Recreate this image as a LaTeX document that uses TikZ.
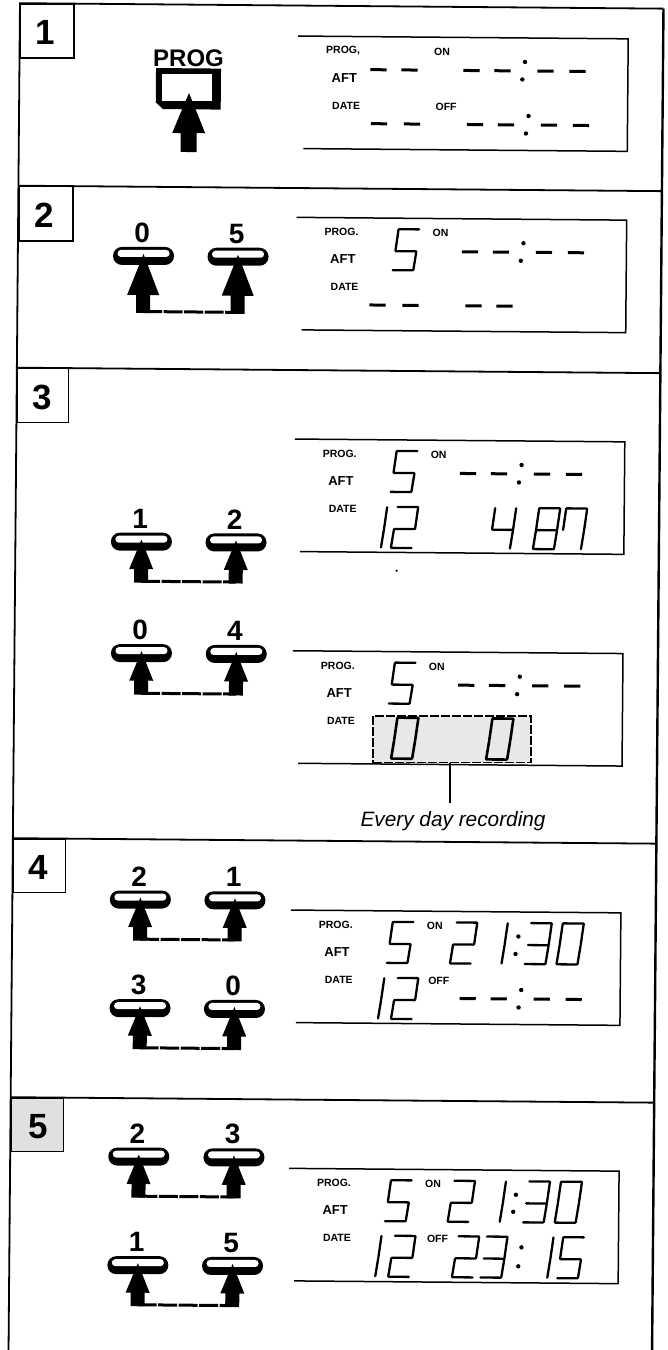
\documentclass[tikz,border=0pt]{standalone}
\usepackage{fontspec}
\setmainfont{Liberation Sans}
\usepackage{tikz}
\usetikzlibrary{calc, positioning}

\tikzset{
    framelines/.style={line width=1.8pt},
    stepbox/.style={draw, line width=1.5pt, inner sep=0pt, anchor=north west},
    stepnum/.style={inner sep=0pt, font=\bfseries\fontsize{35}{35}\selectfont},
    keybtn/.style={fill=black, inner sep=0pt, minimum width=61pt, minimum height=18pt, rounded corners=8.9pt},
    keyface/.style={fill=white, inner sep=0pt, minimum width=52pt, minimum height=7pt, rounded corners=3.4pt},
    keynum/.style={inner sep=0pt, font=\bfseries\fontsize{28}{28}\selectfont},
    keylink/.style={line width=3pt, dash pattern=on 19pt off 1.5pt},
    lcdframe/.style={line width=1.5pt},
    lcdseg/.style={line width=2.3pt, line cap=round, shorten >=0.4pt, shorten <=0.4pt},
    lcddash/.style={line width=3pt, shorten >=2.4pt, shorten <=2.4pt},
    lcdsmall/.style={inner sep=0pt, font=\bfseries\fontsize{10.5}{10.5}\selectfont},
    lcdaft/.style={inner sep=0pt, font=\bfseries\fontsize{13}{13}\selectfont},
    shadebox/.style={draw, fill=black!9, line width=1.9pt, dash pattern=on 9pt off 2pt, inner sep=0pt,
        minimum width=158pt, minimum height=46.8pt},
}

% Segments of the display digits
\def\digZero{TL/TR,TL/ML,TR/MR,ML/BL,MR/BR,BL/BR}
\def\digOne{TR/MR,MR/BR}
\def\digTwo{TL/TR,TR/MR,ML/MR,ML/BL,BL/BR}
\def\digThree{TL/TR,TR/MR,ML/MR,MR/BR,BL/BR}
\def\digFour{TL/ML,TR/MR,ML/MR,MR/BR}
\def\digFive{TL/TR,TL/ML,ML/MR,MR/BR,BL/BR}
\def\digSeven{TL/TR,TL/ML,TR/MR,MR/BR}
\def\digEight{TL/TR,TL/ML,TR/MR,ML/MR,ML/BL,MR/BR,BL/BR}
\def\digDash{ML/MR}

\newcommand{\lcd}[4][lcdseg]{%
    \begin{scope}[shift={(#2,#3)}]
        \coordinate (TL) at (6,0);
        \coordinate (TR) at (27,0);
        \coordinate (ML) at (3,22);
        \coordinate (MR) at (24,22);
        \coordinate (BL) at (0,41);
        \coordinate (BR) at (21,41);
        \foreach \p/\q in #4 { \draw[#1] (\p) -- (\q); }
    \end{scope}}

% Blank time, four dashes and a colon
\newcommand{\timeblank}[2]{%
    \begin{scope}[shift={(#1,#2)}]
        \foreach \x in {160,191,234,266} { \lcd[lcddash]{\x}{11}{\digDash} }
        \fill (227,24) circle (2.2);
        \fill (224.5,41.5) circle (2.2);
    \end{scope}}

% Frame and fixed words of a display
\newcommand{\lcdbase}[2]{%
    \draw[lcdframe] (0,0) -- (330,0) -- (330,112.5) -- (6,112.5);
    \node (#1prog) [lcdsmall] at (45,14.5) {#2};
    \node (#1aft) [lcdaft] at (46.5,41.5) {AFT};
    \node (#1date) [lcdsmall] at (48.5,69.5) {DATE};
    \node (#1on) [lcdsmall] at (144,14.5) {ON};}

\newcommand{\stepno}[5]{%
    \node (#1) [stepbox, minimum width=#4pt, minimum height=#5pt] at (20,#3) {};
    \node (#1num) [stepnum] at (46,#3+29.5) {#2};}

\newcommand{\onekey}[7]{%
    \node (#1) [keybtn] at (#3,#4) {};
    \node (#1face) [keyface] at (#3,#4-2.5) {};
    \node (#1num) [keynum] at (#3-1.5,#4-23) {#2};
    \fill (#3,#4-2) -- (#3+#7,#4+#5) -- (#3+7,#4+#5) -- (#3+7,#4+#6)
        -- (#3-7,#4+#6) -- (#3-7,#4+#5) -- (#3-#7,#4+#5) -- cycle;
    \coordinate (#1foot) at (#3,#4+#6-1.4);}

\newcommand{\keypair}[9]{%
    \onekey{#1a}{#2}{#4}{#6}{#7}{#8}{#9}
    \onekey{#1b}{#3}{#5}{#6}{#7}{#8}{#9}
    \draw[keylink] (#1afoot) -- (#1bfoot);}

\begin{document}
\begin{tikzpicture}[x={(1pt,-0.0085pt)}, y={(-0.0085pt,-1pt)}]
    \useasboundingbox (0pt,0pt) rectangle (667pt,-1350pt);

    % Outer frame and panels
    \draw[framelines] (20,1353) -- (20,3) -- (663.5,3);
    \draw[line width=2.4pt] (663.5,3) -- (663.5,1353);
    \foreach \y in {185.5,367.5,838,1097} {
        \draw[framelines] (20,\y) -- (663.5,\y);
    }

    % Step numbers
    \stepno{stepa}{1}{3}{53.5}{54}
    \stepno{stepb}{2}{185.5}{54}{54.5}
    \stepno{stepc}{3}{367.5}{51}{54}
    \stepno{stepd}{4}{838}{51.7}{53.6}
    \node (stepe) [stepbox, fill=black!12, minimum width=52pt, minimum height=53.6pt] at (20,1097) {};
    \node (stepenum) [stepnum] at (47.5,1126.5) {5};

    % Step 1
    \node (progtxt) [inner sep=0pt, font=\bfseries\fontsize{24}{24}\selectfont] at (189,56.5) {PROG};
    \fill (156.6,66.7) -- (221.6,66.7) -- (221.6,107.7) -- (164,107.7) -- (156.6,101) -- cycle;
    \node (progface) [fill=white, inner sep=0pt, minimum width=50pt, minimum height=27pt] at (187.6,86.2) {};
    \fill (189.8,91.4) -- (206.3,131.5) -- (197.8,131.5) -- (197.8,150.4)
        -- (181.8,150.4) -- (181.8,131.5) -- (173.3,131.5) -- cycle;
    \begin{scope}[shift={(298.5,33.5)}]
        \lcdbase{da}{PROG,}
        \node (daoff) [lcdsmall] at (148.5,69.5) {OFF};
        \lcd[lcddash]{67}{11}{\digDash}
        \lcd[lcddash]{98}{11}{\digDash}
        \timeblank{0}{0}
        \lcd[lcddash]{68}{65}{\digDash}
        \lcd[lcddash]{101}{65}{\digDash}
        \timeblank{4}{54}
    \end{scope}

    % Step 2
    \keypair{pb}{0}{5}{145.7}{240.2}{254.7}{39}{57}{16}
    \begin{scope}[shift={(298.5,214.8)}]
        \lcdbase{db}{PROG.}
        \lcd{96}{11}{\digFive}
        \timeblank{0}{0}
        \foreach \x in {68,101,164,195} { \lcd[lcddash]{\x}{65}{\digDash} }
    \end{scope}

    % Step 3
    \keypair{pc}{1}{2}{146}{240.6}{540.4}{27.5}{41}{12}
    \begin{scope}[shift={(298.5,436.5)}]
        \lcdbase{dc}{PROG.}
        \lcd{96}{11}{\digFive}
        \timeblank{0}{0}
        \lcd{66}{67}{\digOne}
        \lcd{97}{67}{\digTwo}
        \lcd{195}{67}{\digFour}
        \lcd{239}{67}{\digEight}
        \lcd{266}{67}{\digSeven}
    \end{scope}
    \fill (401.5,567.3) circle (1.2);

    \keypair{pd}{0}{4}{147}{241.8}{651.9}{27.5}{41.5}{12}
    \begin{scope}[shift={(298.5,648.2)}]
        \lcdbase{dd}{PROG.}
        \lcd{96}{11}{\digFive}
        \timeblank{0}{0}
        \node (ddshade) [shadebox] at (159.5,87) {};
        \lcd[lcdseg, line width=2.6pt]{99}{66}{\digZero}
        \lcd[lcdseg, line width=2.6pt]{194}{66}{\digZero}
    \end{scope}
    \coordinate (evtip) at (456.5,799);
    \draw[line width=2pt] (ddshade.south -| evtip) -- (evtip);
    \node (evtxt) [inner sep=0pt, font=\itshape\fontsize{20.8}{20.8}\selectfont] at (460,817) {Every day recording};

    % Step 4
    \keypair{pe}{2}{1}{148}{242.6}{898.3}{27.5}{41}{12}
    \keypair{pf}{3}{0}{148.6}{243}{1006.9}{27.5}{41}{12}
    \begin{scope}[shift={(298.6,907.5)}]
        \lcdbase{de}{PROG.}
        \node (deoff) [lcdsmall] at (148.5,69.5) {OFF};
        \lcd{96}{11}{\digFive}
        \lcd{159.5}{11}{\digTwo}
        \lcd{190}{11}{\digOne}
        \fill (227.7,24.5) circle (2.2);
        \fill (225,42) circle (2.2);
        \lcd{234}{11}{\digThree}
        \lcd{266}{11}{\digZero}
        \lcd{67}{67}{\digOne}
        \lcd{101}{67}{\digTwo}
        \timeblank{4}{54}
    \end{scope}

    % Step 5
    \keypair{pg}{2}{3}{148.6}{243.8}{1155.3}{27.5}{41}{12}
    \keypair{ph}{1}{5}{148.6}{243.3}{1263.9}{27.5}{41}{12}
    \begin{scope}[shift={(299,1165.8)}]
        \lcdbase{df}{PROG.}
        \node (dfoff) [lcdsmall] at (149,69.5) {OFF};
        \lcd{96}{11}{\digFive}
        \lcd{159}{11}{\digTwo}
        \lcd{190}{11}{\digOne}
        \fill (227,24.5) circle (2.2);
        \fill (224.5,41.5) circle (2.2);
        \lcd{234}{11}{\digThree}
        \lcd{266}{11}{\digZero}
        \lcd{66}{66.5}{\digOne}
        \lcd{100}{66.5}{\digTwo}
        \lcd{163.7}{66.5}{\digTwo}
        \lcd{192}{66.5}{\digThree}
        \fill (233,77) circle (2.2);
        \fill (230,96) circle (2.2);
        \lcd{238}{66.5}{\digOne}
        \lcd{268.7}{66.5}{\digFive}
    \end{scope}
\end{tikzpicture}
\end{document}
